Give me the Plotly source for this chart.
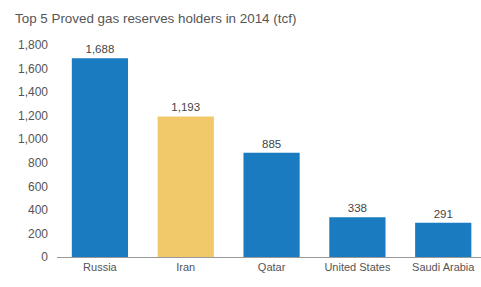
import plotly.graph_objects as go

countries = ["Russia", "Iran", "Qatar", "United States", "Saudi Arabia"]
reserves = [1688, 1193, 885, 338, 291]
labels = ["1,688", "1,193", "885", "338", "291"]
colors = ["#1a7bc0", "#f2c96a", "#1a7bc0", "#1a7bc0", "#1a7bc0"]
yticks = [0, 200, 400, 600, 800, 1000, 1200, 1400, 1600, 1800]

fig = go.Figure(go.Bar(
    x=countries, y=reserves, marker=dict(color=colors, line=dict(width=0)),
    text=labels, textposition="outside", cliponaxis=False,
    textfont=dict(size=11.5, color="#444"),
))
fig.update_layout(
    width=481, height=287,
    margin=dict(l=57, r=0, t=45, b=30),
    paper_bgcolor="white", plot_bgcolor="white",
    font=dict(family="Liberation Sans, Arial", size=11, color="#555"),
    bargap=0.345,
    showlegend=False,
    title=dict(text="Top 5 Proved gas reserves holders in 2014 (tcf)",
               x=15/481, xanchor="left", y=1 - 18/287, yanchor="middle",
               font=dict(size=13.4, color="#555")),
    xaxis=dict(range=[-0.5, 4.44], showline=True, linecolor="#999", linewidth=1,
               ticks="", showgrid=False, automargin=False,
               tickfont=dict(size=11, color="#555")),
    yaxis=dict(range=[0, 1800], tickvals=yticks, tickformat=",", showgrid=False,
               zeroline=False, showline=False, ticks="", ticklen=0, automargin=False,
               ticklabelstandoff=8,
               tickfont=dict(size=12, color="#555")),
)
fig.write_html("out.html", config={"displayModeBar": False},
               post_script="document.body.style.margin='0';")
